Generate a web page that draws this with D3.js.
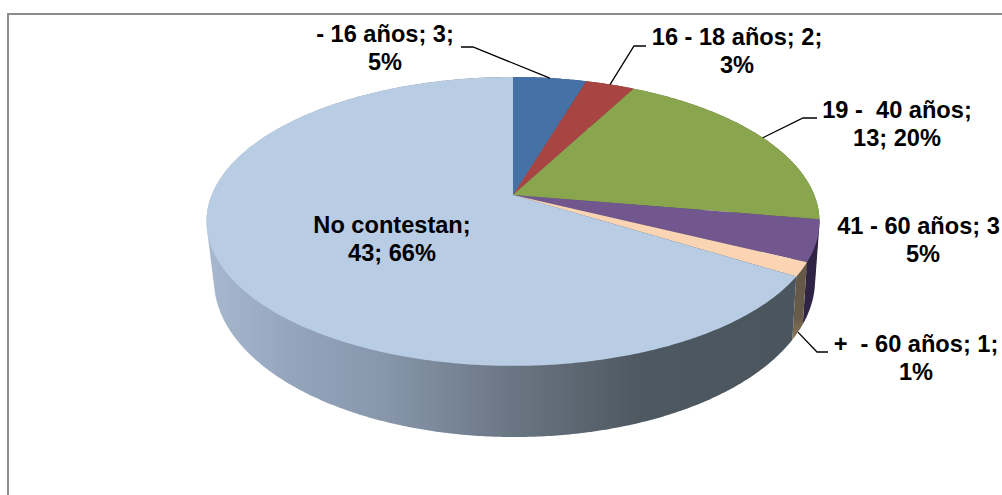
<!DOCTYPE html>
<html>
<head>
<meta charset="utf-8">
<script src="https://cdn.jsdelivr.net/npm/d3@7"></script>
<style>
html,body{margin:0;padding:0;background:#fff;overflow:hidden}
svg{display:block}
text{font-family:"Liberation Sans",Arial,sans-serif;font-weight:bold;font-size:23.6px;fill:#000;white-space:pre}
</style>
</head>
<body>
<svg id="chart" width="1002" height="495"></svg>
<script>
const categories = ["- 16 años", "16 - 18 años", "19 -  40 años", "41 - 60 años", "+  - 60 años", "No contestan"];
const values = [3, 2, 13, 3, 1, 43];
const percents = ["5%", "3%", "20%", "5%", "1%", "66%"];
const topColors = ["#4571a6", "#a84543", "#89a54e", "#71578e", "#fbd4b4", "#b8cce3"];
const wallColors = ["#2c4a6e", "#6e2d2c", "#5a6c33", "#2f2444", "url(#peachWall)", "url(#wallGrad)"];

const labelLines = [
  ["- 16 años; 3;", "5%"],
  ["16 - 18 años; 2;", "3%"],
  ["19 -  40 años;", "13; 20%"],
  ["41 - 60 años; 3", "5%"],
  ["+  - 60 años; 1;", "1%"],
  ["No contestan;", "43; 66%"]
];
// centre x of each of the two text lines
const labelCx = [[385,385], [737,737], [897,897], [918.5,923], [916,916], [392,392]];
const labelBase = [41.5, 45, 118, 234.3, 351.7, 232.7];
const lineGap = 28;
// leader elbow and end points, per slice (null = no leader)
const leaderEnds = [[[473,47],[461,47]], [[634,46],[646,46]], [[803,118],[817,118]], null, [[817,352],[828,352]], null];

const k = 0.183;
const upper = {x: d3.scaleLinear().domain([-1,1]).range([513-301.3, 513+301.3]),
             y: d3.scaleLinear().domain([-1,1]).range([195-139.6, 195+139.6])};
const lower = {x: d3.scaleLinear().domain([-1,1]).range([514.5-295.5, 514.5+295.5]),
             y: d3.scaleLinear().domain([-1,1]).range([251-152, 251+152])};

function project(d, a){
  const u = Math.sin(a), v = -Math.cos(a), w = 1 - k*v;
  return [d.x(u/w), d.y(v/w)];
}
function arcPts(d, a0, a1){
  const n = Math.max(2, Math.ceil((a1-a0)/(Math.PI/360)));
  return d3.range(n+1).map(i => project(d, a0 + (a1-a0)*i/n));
}
const slices = d3.pie().sort(null).value(d=>d).startAngle(0).endAngle(2*Math.PI)(values);
const line = d3.line();
const svg = d3.select("#chart");

const defs = svg.append("defs");
const grad = defs.append("linearGradient").attr("id","wallGrad")
  .attr("gradientUnits","userSpaceOnUse").attr("x1",207).attr("x2",800).attr("y1",0).attr("y2",0);
[[0,"#a8b8cf"],[0.14,"#94a5bc"],[0.3,"#8796ab"],[0.52,"#6a7583"],[0.73,"#4e5860"],[1,"#4b555d"]]
  .forEach(s=>grad.append("stop").attr("offset",s[0]).attr("stop-color",s[1]));
const grad2 = defs.append("linearGradient").attr("id","peachWall")
  .attr("x1",0).attr("x2",0).attr("y1",0).attr("y2",1);
grad2.append("stop").attr("offset",0).attr("stop-color","#655848");
grad2.append("stop").attr("offset",0.7).attr("stop-color","#675a49");
grad2.append("stop").attr("offset",1).attr("stop-color","#8e7859");

// frame
svg.append("path").attr("d", line([[8,495],[8,14],[1002,14]]))
  .attr("fill","none").attr("stroke","#8c8c8c").attr("stroke-width",2);

// walls: the swept side of each slice, as the hull of its two arcs
svg.append("g").selectAll("path").data(slices).join("path")
  .attr("d", s => {
    const a = arcPts(upper, s.startAngle, s.endAngle);
    const b = arcPts(lower, s.startAngle, s.endAngle);
    return line(d3.polygonHull(a.concat(b))) + "Z";
  })
  .attr("fill", (s,i)=>wallColors[i]);

// tops
const apex = [upper.x(0), upper.y(0)];
svg.append("g").selectAll("path").data(slices).join("path")
  .attr("d", s => line([apex].concat(arcPts(upper, s.startAngle, s.endAngle))) + "Z")
  .attr("fill", (s,i)=>topColors[i]);

// leaders
slices.forEach((s,i)=>{
  if(!leaderEnds[i]) return;
  const mid = (s.startAngle+s.endAngle)/2;
  const start = project(i===4 ? lower : upper, mid);
  svg.append("path").attr("d", line([start].concat(leaderEnds[i])))
    .attr("fill","none").attr("stroke","#000").attr("stroke-width",1.3);
});

// labels
labelLines.forEach((ls,i)=>{
  ls.forEach((t,j)=>{
    svg.append("text").attr("x",labelCx[i][j]).attr("y",labelBase[i]+j*lineGap)
      .attr("text-anchor","middle").attr("xml:space","preserve").text(t);
  });
});
</script>
</body>
</html>
